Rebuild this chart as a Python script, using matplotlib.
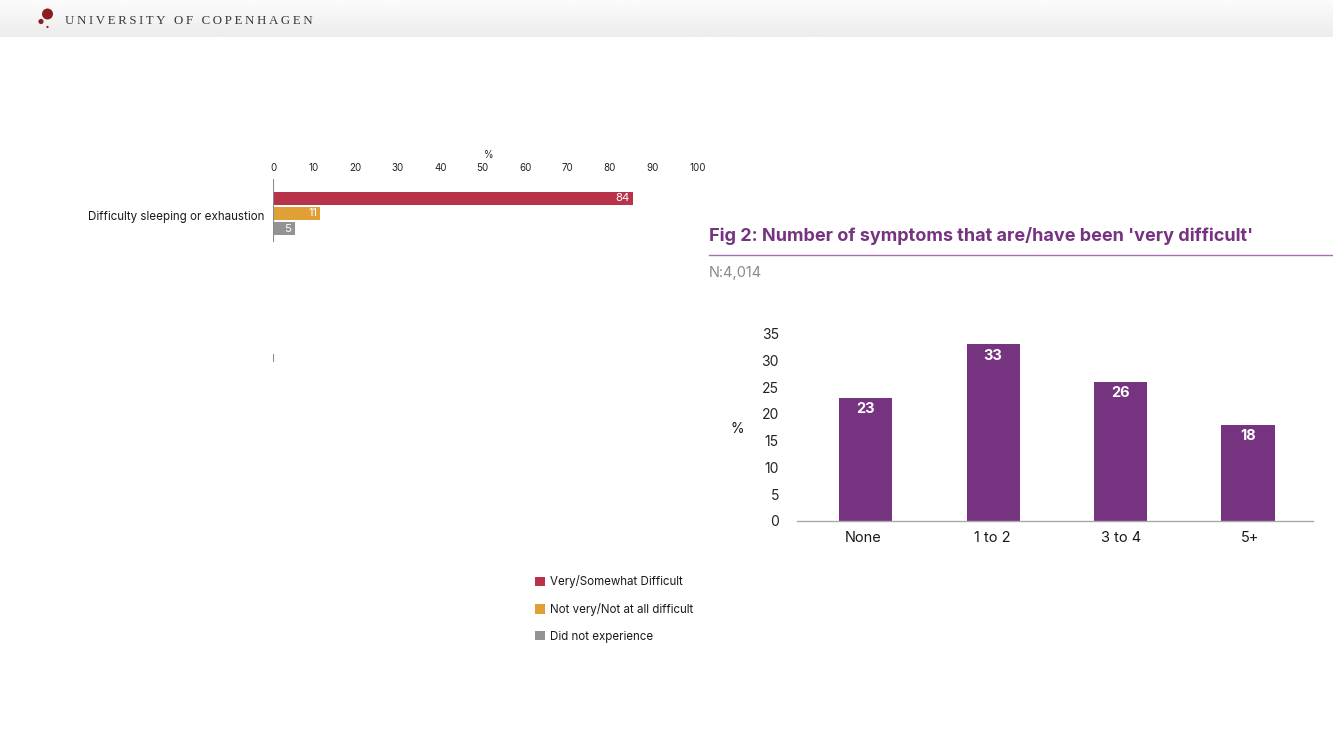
import matplotlib
matplotlib.use("Agg")
import matplotlib.pyplot as plt
import matplotlib.transforms as mtrans
import numpy as np
from matplotlib.patches import Circle

plt.rcParams['font.family'] = ['Inter', 'DejaVu Sans']

W, H = 1333, 750

# Data
symptom = ["Difficulty sleeping or exhaustion"]
series_names = ["Very/Somewhat Difficult", "Not very/Not at all difficult", "Did not experience"]
series_values = [84.8, 11.2, 5.1]
series_labels = ["84", "11", "5"]
series_colors = ["#B8324A", "#E0A035", "#939393"]
top_ticks = [0, 10, 20, 30, 40, 50, 60, 70, 80, 90, 100]

count_cats = ["None", "1 to 2", "3 to 4", "5+"]
count_vals = [23, 33, 26, 18]
count_ticks = [0, 5, 10, 15, 20, 25, 30, 35]
PURPLE = "#753380"


def axpx(fig, x0, y0, x1, y1, **kw):
    """Axes from pixel box (top-left origin)."""
    return fig.add_axes([x0 / W, 1 - y1 / H, (x1 - x0) / W, (y1 - y0) / H], **kw)


def nudge(label, dx_px):
    label.set_transform(label.get_transform() + mtrans.Affine2D().translate(dx_px, 0))


fig = plt.figure(figsize=(W / 100, H / 100), dpi=100, facecolor="white")

# Page furniture: header band, logo, heading
bg = axpx(fig, 0, 0, W, H)
bg.set_xlim(0, W)
bg.set_ylim(H, 0)
bg.axis("off")
grad = np.linspace(0.985, 0.925, 40).reshape(-1, 1)
bg.imshow(grad, extent=(0, W, 37, 0), cmap="gray", vmin=0, vmax=1, aspect="auto", zorder=0)
bg.set_xlim(0, W)
bg.set_ylim(H, 0)
for cx, cy, r in [(47.5, 14, 5.5), (41, 21.5, 2.6), (47.5, 27, 1.1)]:
    bg.add_patch(Circle((cx, cy), r, color="#8E1B22", lw=0, zorder=2))
bg.text(65, 20.5, "\u2009".join("UNIVERSITY OF COPENHAGEN"), family=["Liberation Serif", "DejaVu Serif"],
        fontsize=9.25, color="#3A3A3A", va="center", ha="left")
bg.text(709, 236, "Fig 2: Number of symptoms that are/have been 'very difficult'",
        fontsize=13, fontweight="bold", color=PURPLE, va="center", ha="left")
bg.plot([709, 1333], [255, 255], color="#A86FB3", lw=1.0)
bg.text(709, 273, "N:4,014", fontsize=10.5, color="#8A8A8A", va="center", ha="left")

# Figure 1: horizontal bars
ax1 = axpx(fig, 273, 179, 697, 362)
ax1.patch.set_alpha(0)
ax1.set_xlim(0, 100)
ax1.set_ylim(9.78, -2.257)
for s in ax1.spines.values():
    s.set_visible(False)
bars = []
for i, (name, val, lab, col) in enumerate(zip(series_names, series_values, series_labels, series_colors)):
    b = ax1.barh(i - 1, val, height=0.86, color=col, label=name)
    bars.append(b)
    ax1.text(val - 0.8, i - 1, lab, color="white", fontsize=8.2, ha="right", va="center")
ax1.axvline(0, ymin=1 - 62 / 183, ymax=1, color="#8A8A8A", lw=0.8)
ax1.axvline(0, ymin=0, ymax=8 / 183, color="#8A8A8A", lw=0.8)
ax1.xaxis.tick_top()
ax1.set_xticks(top_ticks)
ax1.tick_params(axis="x", length=0, pad=4.5, labelsize=7.0, colors="#222222")
for t, lab in zip(top_ticks, ax1.get_xticklabels()):
    nudge(lab, 0.5 if t in (0, 100) else -2.2)
ax1.set_yticks([0.12])
ax1.set_yticklabels(symptom, fontsize=8.35, color="#1a1a1a")
ax1.tick_params(axis="y", length=0, pad=6)
bg.text(489, 155, "%", fontsize=7.0, color="#222222", ha="center", va="center")

fig.legend(handles=[b[0] for b in bars], labels=series_names, frameon=False,
           loc="upper left", bbox_to_anchor=(531.5 / W, 1 - 572 / H), borderaxespad=0, borderpad=0.3,
           fontsize=8.3, handlelength=0.87, handleheight=0.87, handletextpad=0.43,
           labelspacing=1.26, labelcolor="#1a1a1a")

# Figure 2: vertical bars
ax2 = axpx(fig, 797, 333.7, 1313, 521)
ax2.patch.set_alpha(0)
xpos = np.arange(len(count_cats))
ax2.bar(xpos, count_vals, width=0.416, color=PURPLE)
ax2.set_xlim(-0.538, 3.51)
ax2.set_ylim(0, 35)
for s in ["top", "right", "left"]:
    ax2.spines[s].set_visible(False)
ax2.spines["bottom"].set_color("#A9A9A9")
ax2.spines["bottom"].set_linewidth(1.0)
ax2.set_xticks(xpos)
ax2.set_xticklabels(count_cats, fontsize=10.5, color="#1a1a1a")
ax2.set_yticks(count_ticks)
ax2.tick_params(axis="x", length=0, pad=7.2)
ax2.tick_params(axis="y", length=0, pad=13, labelsize=10, labelcolor="#222222")
for lab, dx in zip(ax2.get_xticklabels(), [-2.5, -0.5, 0.5, 2.5]):
    nudge(lab, dx)
for x, v in zip(xpos, count_vals):
    ax2.annotate(str(v), (x, v), xytext=(0, -8), textcoords="offset points", ha="center", va="center",
                 color="white", fontsize=10.5, fontweight="bold")
bg.text(737.5, 429, "%", fontsize=10, color="#1a1a1a", ha="center", va="center")

fig.savefig("out.png", dpi=100)
